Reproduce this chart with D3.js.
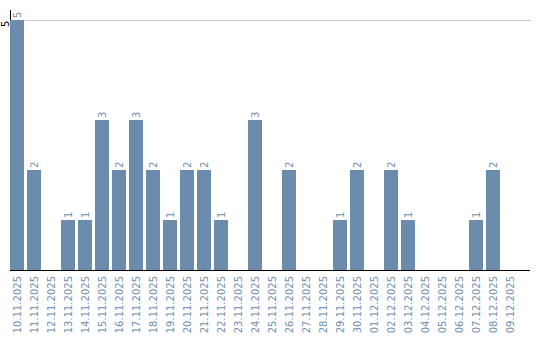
<!DOCTYPE html>
<html>
<head>
<meta charset="utf-8">
<script src="https://cdn.jsdelivr.net/npm/d3@7"></script>
<style>
  body { margin: 0; background: #fff; }
  text { font-family: "DejaVu Sans", Verdana, sans-serif; }
</style>
</head>
<body>
<svg id="chart" width="540" height="340"></svg>
<script>
// dates on x axis
const dates = [
  "10.11.2025", "11.11.2025", "12.11.2025", "13.11.2025", "14.11.2025",
  "15.11.2025", "16.11.2025", "17.11.2025", "18.11.2025", "19.11.2025",
  "20.11.2025", "21.11.2025", "22.11.2025", "23.11.2025", "24.11.2025",
  "25.11.2025", "26.11.2025", "27.11.2025", "28.11.2025", "29.11.2025",
  "30.11.2025", "01.12.2025", "02.12.2025", "03.12.2025", "04.12.2025",
  "05.12.2025", "06.12.2025", "07.12.2025", "08.12.2025", "09.12.2025"
];
// counts per day
const counts = [5, 2, 0, 1, 1, 3, 2, 3, 2, 1, 2, 2, 1, 0, 3, 0, 2, 0, 0, 1, 2, 0, 2, 1, 0, 0, 0, 1, 2, 0];
const yTicks = [5];

const svg = d3.select("#chart");
const plotLeft = 10, plotRight = 530, plotTop = 20, plotBottom = 270;
const barColor = "#6b8cad";
const labelColor = "#6f8fae";

const x = d3.scaleBand()
  .domain(dates)
  .range([plotLeft, plotLeft + 17 * dates.length - 3])
  .paddingInner(3 / 17)
  .paddingOuter(0);

const y = d3.scaleLinear().domain([0, 5]).range([plotBottom, plotTop]);

// grid line
svg.selectAll(".grid")
  .data(yTicks)
  .enter()
  .append("line")
  .attr("x1", plotLeft)
  .attr("x2", plotRight)
  .attr("y1", (d) => y(d) + 0.5)
  .attr("y2", (d) => y(d) + 0.5)
  .attr("stroke", "#c8c8c8")
  .attr("stroke-width", 1);

// y axis line
svg.append("line")
  .attr("x1", plotLeft + 0.5).attr("x2", plotLeft + 0.5)
  .attr("y1", plotTop - 10).attr("y2", plotBottom)
  .attr("stroke", "#000");

// y tick labels
svg.selectAll(".ytick")
  .data(yTicks)
  .enter()
  .append("text")
  .attr("transform", (d) => `translate(8.5,${y(d) + 7}) rotate(-90)`)
  .attr("text-anchor", "start")
  .attr("font-size", 10)
  .attr("fill", "#000")
  .text((d) => d);

const data = dates.map((d, i) => ({ date: d, value: counts[i] }));

// bars
svg.selectAll(".bar")
  .data(data.filter((d) => d.value > 0))
  .enter()
  .append("rect")
  .attr("x", (d) => x(d.date))
  .attr("y", (d) => y(d.value))
  .attr("width", x.bandwidth())
  .attr("height", (d) => plotBottom - y(d.value))
  .attr("fill", barColor);

// value labels
svg.selectAll(".val")
  .data(data.filter((d) => d.value > 0))
  .enter()
  .append("text")
  .attr("transform", (d) => `translate(${x(d.date) + x.bandwidth() / 2 + 3.5},${y(d.value) - 2}) rotate(-90)`)
  .attr("text-anchor", "start")
  .attr("font-size", 10)
  .attr("fill", labelColor)
  .text((d) => d.value);

// baseline
svg.append("line")
  .attr("x1", plotLeft).attr("x2", plotRight)
  .attr("y1", plotBottom + 0.5).attr("y2", plotBottom + 0.5)
  .attr("stroke", "#000");

// x tick labels
svg.selectAll(".xtick")
  .data(dates)
  .enter()
  .append("text")
  .attr("transform", (d) => `translate(${x(d) + x.bandwidth() / 2 + 3.5},${plotBottom + 6}) rotate(-90)`)
  .attr("text-anchor", "end")
  .attr("font-size", 10)
  .attr("fill", labelColor)
  .text((d) => d);
</script>
</body>
</html>
